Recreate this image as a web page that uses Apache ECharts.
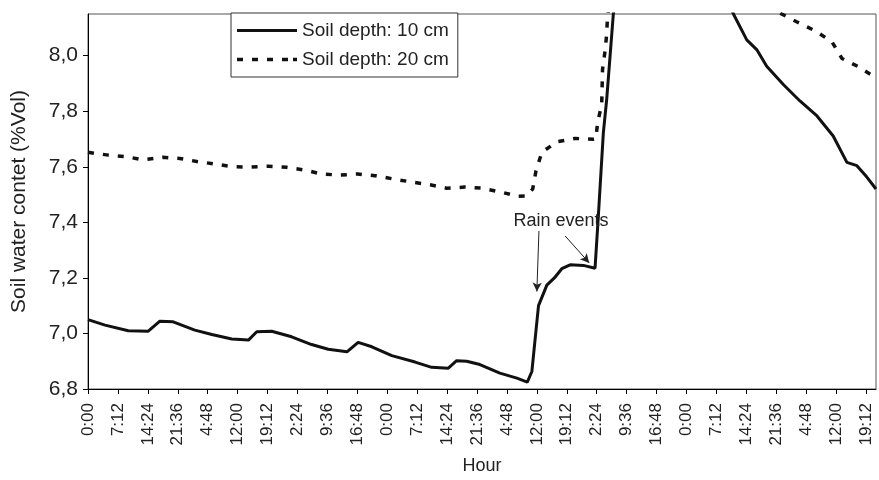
<!DOCTYPE html>
<html>
<head>
<meta charset="utf-8">
<script src="https://cdn.jsdelivr.net/npm/echarts@6/dist/echarts.min.js"></script>
<style>
  html, body { margin: 0; padding: 0; background: #fff; }
  #soilChart { width: 879px; height: 480px; }
</style>
</head>
<body>
<div id="soilChart"></div>
<script>
// time in hours from start, soil water content in %Vol
var depth10Hours = [0, 4.1, 9.7, 14.5, 17.3, 20.5, 25.7, 29.8, 34.6, 38.6, 40.6, 44.2, 49.0, 53.8, 57.8, 62.3, 65.0, 68.3, 73.1, 78.7, 82.7, 86.7, 88.7, 91.1, 94.3, 99.1, 103.2, 105.7, 106.8, 107.6, 108.4, 110.4, 112.4, 114.0, 116.0, 119.2, 122.0, 122.8, 124.0, 124.8, 126.4, 128.5, 135, 145, 153.3, 155.3, 158.5, 160.9, 163.3, 167.3, 171.3, 175.4, 179.3, 182.6, 185.0, 187.4, 189.6];
var depth10Values = [7.05, 7.03, 7.01, 7.008, 7.044, 7.042, 7.012, 6.996, 6.98, 6.976, 7.006, 7.008, 6.988, 6.96, 6.943, 6.934, 6.968, 6.952, 6.92, 6.897, 6.878, 6.875, 6.902, 6.90, 6.888, 6.857, 6.839, 6.825, 6.863, 6.982, 7.10, 7.174, 7.203, 7.233, 7.247, 7.245, 7.235, 7.424, 7.723, 7.842, 8.15, 8.45, 8.6, 8.45, 8.22, 8.15, 8.057, 8.022, 7.962, 7.896, 7.837, 7.783, 7.711, 7.616, 7.604, 7.563, 7.52];

var depth20Hours = [0, 4.9, 9.3, 13.3, 18.0, 22.1, 26.2, 30.6, 35.0, 39.0, 43.4, 47.8, 52.2, 56.2, 60.6, 64.9, 69.1, 73.5, 77.9, 82.3, 86.3, 90.7, 94.7, 99.3, 103.5, 105.6, 107.0, 107.8, 109.2, 112.8, 117.2, 121.6, 122.2, 122.6, 123.6, 123.8, 124.4, 124.8, 125.0, 127, 140, 155, 163.5, 166.9, 170.5, 174.9, 179.0, 181.4, 185.4, 189.6];
var depth20Values = [7.652, 7.642, 7.636, 7.625, 7.634, 7.630, 7.619, 7.61, 7.60, 7.599, 7.602, 7.598, 7.588, 7.574, 7.57, 7.574, 7.568, 7.556, 7.545, 7.535, 7.523, 7.527, 7.523, 7.509, 7.494, 7.495, 7.52, 7.586, 7.652, 7.69, 7.702, 7.699, 7.70, 7.758, 7.824, 7.95, 8.016, 8.078, 8.141, 8.4, 8.6, 8.4, 8.18, 8.15, 8.122, 8.09, 8.05, 7.99, 7.96, 7.92];

var xTickHours = [0, 7.2, 14.4, 21.6, 28.8, 36, 43.2, 50.4, 57.6, 64.8, 72, 79.2, 86.4, 93.6, 100.8, 108, 115.2, 122.4, 129.6, 136.8, 144, 151.2, 158.4, 165.6, 172.8, 180, 187.2];
var xTickLabels = ['0:00', '7:12', '14:24', '21:36', '4:48', '12:00', '19:12', '2:24', '9:36', '16:48', '0:00', '7:12', '14:24', '21:36', '4:48', '12:00', '19:12', '2:24', '9:36', '16:48', '0:00', '7:12', '14:24', '21:36', '4:48', '12:00', '19:12'];
var yTickValues = [6.8, 7.0, 7.2, 7.4, 7.6, 7.8, 8.0];

// "Rain events" arrows: [from, to] in data units
var rainArrows = [
    [[108.5, 7.369], [108.0, 7.151]],
    [[114.8, 7.351], [120.6, 7.254]]
];
var rainLabelPos = [113.8, 7.405];

function zipPoints(xs, ys) {
    return xs.map(function (x, i) { return [x, ys[i]]; });
}

var fontName = 'Liberation Sans, Arial, sans-serif';
var chart = echarts.init(document.getElementById('soilChart'));

var option = {
    animation: false,
    textStyle: { fontFamily: fontName, color: '#222' },
    grid: {
        left: 88, right: 3, top: 14, bottom: 89,
        show: true, borderColor: '#555', borderWidth: 1, backgroundColor: '#fff'
    },
    legend: {
        left: 231, top: 13,
        orient: 'vertical',
        itemWidth: 60, itemHeight: 14, itemGap: 10,
        padding: [8, 9, 8, 6],
        borderColor: '#333', borderWidth: 1, borderRadius: 0,
        backgroundColor: '#fff',
        textStyle: { fontSize: 19, color: '#222', fontFamily: fontName },
        data: [
            { name: 'Soil depth: 10 cm', icon: 'path://M0,0 L60,0 L60,3 L0,3 Z', itemStyle: { color: '#111' } },
            { name: 'Soil depth: 20 cm', icon: 'path://M0,0h6v3.5h-6z M15,0h6v3.5h-6z M30,0h6v3.5h-6z M45,0h6v3.5h-6z M56,0h4v3.5h-4z', itemStyle: { color: '#111' } }
        ]
    },
    xAxis: {
        type: 'value',
        min: 0, max: 189.6, interval: 7.2,
        name: 'Hour', nameLocation: 'middle', nameGap: 68,
        nameTextStyle: { fontSize: 18, color: '#222' },
        splitLine: { show: false },
        axisLine: { lineStyle: { color: '#000', width: 1 } },
        axisTick: { length: 5, inside: false, lineStyle: { color: '#000' }, customValues: xTickHours },
        axisLabel: {
            rotate: 90, margin: 14, fontSize: 17, color: '#222',
            customValues: xTickHours,
            formatter: function (v) {
                var i = xTickHours.findIndex(function (t) { return Math.abs(t - v) < 0.01; });
                return i >= 0 ? xTickLabels[i] : '';
            }
        }
    },
    yAxis: {
        type: 'value',
        min: 6.8, max: 8.15, interval: 0.2,
        name: 'Soil water contet (%Vol)', nameLocation: 'middle', nameGap: 58,
        nameTextStyle: { fontSize: 21, color: '#222' },
        splitLine: { show: false },
        axisLine: { show: true, lineStyle: { color: '#000', width: 1 } },
        axisTick: { show: true, length: 5, lineStyle: { color: '#000' }, customValues: yTickValues },
        axisLabel: {
            margin: 10, fontSize: 21, color: '#222',
            customValues: yTickValues,
            formatter: function (v) {
                var i = yTickValues.findIndex(function (t) { return Math.abs(t - v) < 0.001; });
                return i >= 0 ? yTickValues[i].toFixed(1).replace('.', ',') : '';
            }
        }
    },
    series: [
        {
            name: 'Soil depth: 10 cm',
            type: 'line',
            data: zipPoints(depth10Hours, depth10Values),
            showSymbol: false, symbol: 'none',
            clip: true,
            itemStyle: { color: '#111' },
            lineStyle: { color: '#111', width: 3 },
            markLine: {
                silent: true,
                symbol: ['none', 'arrow'],
                symbolSize: [7, 9],
                lineStyle: { color: '#222', width: 1, type: 'solid' },
                label: { show: false },
                data: rainArrows.map(function (a) {
                    return [{ coord: a[0] }, { coord: a[1] }];
                })
            },
            markPoint: {
                silent: true,
                symbol: 'circle', symbolSize: 1,
                itemStyle: { color: 'rgba(0,0,0,0)' },
                label: { show: true, position: 'inside', formatter: 'Rain events', fontSize: 18, color: '#222', fontFamily: fontName },
                data: [{ coord: rainLabelPos }]
            }
        },
        {
            name: 'Soil depth: 20 cm',
            type: 'line',
            data: zipPoints(depth20Hours, depth20Values),
            showSymbol: false, symbol: 'none',
            clip: true,
            itemStyle: { color: '#111' },
            lineStyle: { color: '#111', width: 3.5, type: [6, 9] }
        }
    ]
};
chart.setOption(option);
</script>
</body>
</html>
